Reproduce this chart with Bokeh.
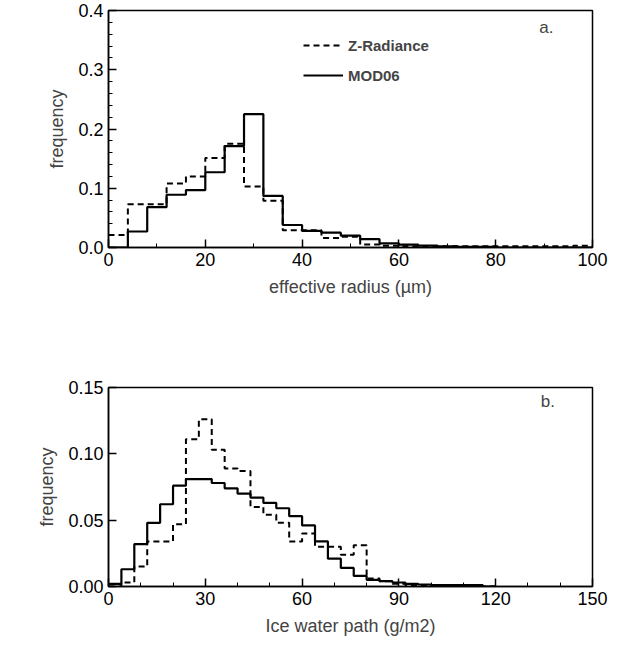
from bokeh.plotting import figure
from bokeh.layouts import column
from bokeh.embed import file_html
from bokeh.resources import INLINE
from bokeh.models import Label, Legend, LegendItem, FixedTicker, CustomJSTickFormatter

# Panel a: effective radius, bins of width 4 starting at 0
re_edges = [0, 4, 8, 12, 16, 20, 24, 28, 32, 36, 40, 44, 48, 52, 56, 60, 64, 68, 72, 76, 80, 84, 88, 92, 96, 100]
re_zrad = [0.021, 0.073, 0.073, 0.108, 0.120, 0.151, 0.175, 0.103, 0.079, 0.029, 0.029, 0.016, 0.018, 0.005, 0.003, 0.002, 0.002, 0.002, 0.002, 0.002, 0.002, 0.002, 0.002, 0.002, 0.003]
re_mod06 = [0.0, 0.027, 0.068, 0.089, 0.097, 0.127, 0.171, 0.225, 0.087, 0.038, 0.028, 0.025, 0.020, 0.014, 0.007, 0.005, 0.003, 0.002, 0.001, 0.001, 0.0, 0.0, 0.0, 0.0, 0.0]

# Panel b: ice water path, bins of width 4
iwp_edges = list(range(0, 124, 4))
iwp_zrad = [0.0, 0.003, 0.015, 0.034, 0.034, 0.047, 0.111, 0.126, 0.103, 0.089, 0.087, 0.060, 0.054, 0.048, 0.034, 0.040, 0.030, 0.030, 0.024, 0.031, 0.006, 0.004, 0.002, 0.001, 0.001, 0.0005, 0.0005, 0.0, 0.0, 0.0]
iwp_mod06 = [0.002, 0.013, 0.032, 0.048, 0.062, 0.076, 0.081, 0.081, 0.078, 0.074, 0.070, 0.067, 0.063, 0.059, 0.053, 0.046, 0.034, 0.021, 0.014, 0.008, 0.005, 0.004, 0.003, 0.002, 0.0015, 0.001, 0.001, 0.001, 0.001, 0.0]

FONT = "Liberation Sans"

def style(p, yfmt):
    p.outline_line_color = "black"
    p.outline_line_width = 1.5
    p.grid.visible = False
    for ax in (p.xaxis[0], p.yaxis[0]):
        ax.major_tick_in = 8
        ax.major_tick_out = 0
        ax.minor_tick_in = 4
        ax.minor_tick_out = 0
        ax.axis_line_width = 1.5
        ax.major_tick_line_width = 1.5
        ax.major_label_text_font = FONT
        ax.major_label_text_font_size = "18px"
        ax.major_label_text_color = "black"
        ax.axis_label_text_font = FONT
        ax.axis_label_text_font_size = "18px"
        ax.axis_label_text_font_style = "normal"
        ax.axis_label_standoff = 8
    p.yaxis.formatter = CustomJSTickFormatter(code="return tick.toFixed(%d);" % yfmt)

def steps(edges, vals):
    xs = edges[:len(vals) + 1]
    ys = list(vals) + [vals[-1]]
    return xs, ys

p1 = figure(frame_width=484, frame_height=237, x_range=(0, 100), y_range=(0, 0.4),
            output_backend="svg", toolbar_location=None,
            x_axis_label="effective radius (µm)", y_axis_label="frequency",
            min_border_left=108, min_border_right=16, min_border_top=10)
style(p1, 1)
p1.xaxis.ticker = FixedTicker(ticks=[0, 20, 40, 60, 80, 100], minor_ticks=list(range(0, 101, 10)))
p1.yaxis.ticker = FixedTicker(ticks=[0.0, 0.1, 0.2, 0.3, 0.4], minor_ticks=[i * 0.02 for i in range(21)])
x, y = steps(re_edges, re_zrad)
r1 = p1.step(x, y, mode="after", line_color="black", line_width=2, line_dash="6 4")
x, y = steps(re_edges, re_mod06)
r2 = p1.step(x, y, mode="after", line_color="black", line_width=2.2)
leg = Legend(items=[LegendItem(label="Z-Radiance", renderers=[r1]), LegendItem(label="MOD06", renderers=[r2])],
             location=(195, 162), border_line_color=None, background_fill_alpha=0,
             label_text_font=FONT, label_text_font_style="bold", label_text_font_size="15px",
             glyph_width=40, spacing=10)
p1.add_layout(leg, "center")
p1.add_layout(Label(x=89, y=0.355, text="a.", text_font=FONT, text_font_size="17px"))

p2 = figure(frame_width=484, frame_height=199, x_range=(0, 150), y_range=(0, 0.15),
            output_backend="svg", toolbar_location=None,
            x_axis_label="Ice water path (g/m2)", y_axis_label="frequency",
            min_border_left=108, min_border_right=16, min_border_top=10)
style(p2, 2)
p2.xaxis.ticker = FixedTicker(ticks=[0, 30, 60, 90, 120, 150], minor_ticks=list(range(0, 151, 10)))
p2.yaxis.ticker = FixedTicker(ticks=[0.0, 0.05, 0.10, 0.15], minor_ticks=[])
x, y = steps(iwp_edges, iwp_zrad)
p2.step(x, y, mode="after", line_color="black", line_width=2, line_dash="6 4")
x, y = steps(iwp_edges, iwp_mod06)
p2.step(x, y, mode="after", line_color="black", line_width=2.2)
p2.add_layout(Label(x=134, y=0.132, text="b.", text_font=FONT, text_font_size="17px"))

layout = column(p1, p2, spacing=78)
open("out.html", "w").write(file_html(layout, INLINE))
